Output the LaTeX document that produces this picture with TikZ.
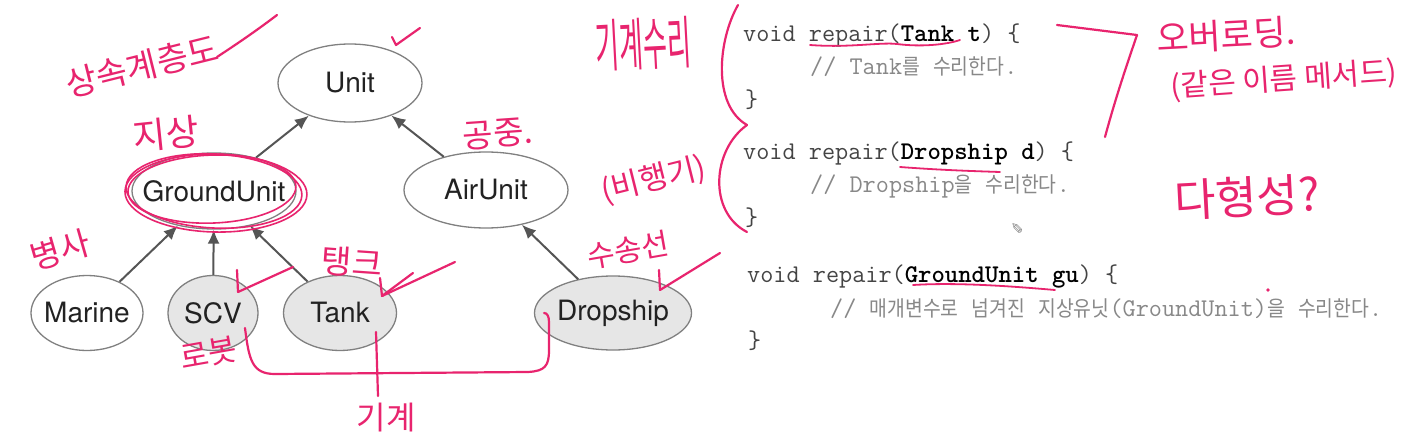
\documentclass[tikz,border=0pt]{standalone}
\usepackage{fontspec}
\setsansfont{TeX Gyre Heros}
\newfontfamily\kr[FakeStretch=0.9]{Noto Sans CJK KR}
\newfontfamily\hw{Noto Sans CJK KR}
\newfontfamily\dejavu{DejaVu Sans}
\usetikzlibrary{shapes.geometric,arrows.meta}
\definecolor{pen}{HTML}{E8246E}
\definecolor{edgegray}{HTML}{808080}
\definecolor{subfill}{HTML}{E6E6E6}
\definecolor{arr}{HTML}{555555}
\definecolor{codegray}{HTML}{444444}
\definecolor{cmtgray}{HTML}{888888}
\definecolor{lbl}{HTML}{222222}
\newcommand\zc[1]{\makebox[0pt]{#1}}
\newcommand\ko[1]{{\kr\fontsize{21.5}{24}\selectfont #1}}
\newcommand\hs[1]{\fontsize{#1}{#1}\selectfont}
\tikzset{
  cls/.style={ellipse, draw=edgegray, line width=1.3pt, inner sep=0pt, fill=white,
    font=\sffamily\fontsize{28}{30}\selectfont, text=lbl},
  sub/.style={cls, fill=subfill},
  inh/.style={draw=arr, line width=2pt, -{Latex[length=14pt,width=12pt]}},
  code/.style={anchor=base west, inner sep=0pt, text=codegray,
    font=\ttfamily\fontsize{25.5}{30}\selectfont},
  cmt/.style={code, text=cmtgray},
  hand/.style={inner sep=0pt, text=pen, font=\hw},
  penline/.style={draw=pen, line width=2.2pt, line cap=round, line join=round}
}
\begin{document}
\begin{tikzpicture}[x=1pt,y=-1pt]
\useasboundingbox (0,0) rectangle (1412,441);
\fill[white] (0,0) rectangle (1412,441);

% ---- class hierarchy ----
\node[cls, minimum width=144pt, minimum height=78pt] (Unit) at (350,83) {\zc{Unit}};
\node[cls, minimum width=164pt, minimum height=76pt] (GroundUnit) at (214,191) {\zc{GroundUnit}};
\node[cls, minimum width=164pt, minimum height=76pt] (AirUnit) at (486,190) {\zc{AirUnit}};
\node[cls, minimum width=112pt, minimum height=75pt] (Marine) at (87,313) {\zc{Marine}};
\node[sub, minimum width=90pt, minimum height=75pt] (SCV) at (213,313) {\zc{SCV}};
\node[sub, minimum width=113pt, minimum height=75pt] (Tank) at (340,313) {\zc{Tank}};
\node[sub, minimum width=157pt, minimum height=74pt] (Dropship) at (613,313) {\zc{Dropship}};

\draw[inh] (GroundUnit) -- (Unit);
\draw[inh] (AirUnit) -- (Unit);
\draw[inh] (Marine) -- (GroundUnit);
\draw[inh] (SCV) -- (GroundUnit);
\draw[inh] (Tank) -- (GroundUnit);
\draw[inh] (Dropship) -- (AirUnit);

% ---- code ----
\node[code] (c1a) at (743,42) {void repair(\textbf{\color{black}Tank t}) \{};
\node[cmt]  (c1b) at (810,75) {// Tank\ko{를} \ko{수리한다}.};
\node[code] (c1c) at (745,108) {\}};
\node[code] (c2a) at (743,159) {void repair(\textbf{\color{black}Dropship d}) \{};
\node[cmt]  (c2b) at (810,192) {// Dropship\ko{을} \ko{수리한다}.};
\node[code] (c2c) at (745,225) {\}};
\node[code] (c3a) at (747,282) {void repair(\textbf{\color{black}GroundUnit gu}) \{};
\node[cmt]  (c3b) at (830,316) {// \ko{매개변수로} \ko{넘겨진} \ko{지상유닛}(GroundUnit)\ko{을} \ko{수리한다}.};
\node[code] (c3c) at (748,348) {\}};

\node[text=gray, font=\dejavu\fontsize{15}{15}\selectfont, rotate=180, inner sep=0pt] (cursor) at (1017,228) {✎};

% ---- handwritten annotations ----
\node[hand, font=\hw\hs{34}, rotate=14] (h1) at (142,66) {상속계층도};
\draw[penline] (217,57) .. controls (240,42) and (260,28) .. (277,15);
\draw[penline] (392,37) -- (396,45) -- (420,28);
\node[hand, font=\hw\hs{36}, rotate=6] (h2) at (166,134) {지상};
\draw[penline, line width=1.6pt, rotate around={-3:(214,191)}] (214,191) ellipse [x radius=88, y radius=37];
\draw[penline, line width=1.6pt, rotate around={2:(214,191)}] (212,189) ellipse [x radius=84, y radius=34];
\draw[penline, line width=1.6pt, rotate around={-1:(214,191)}] (216,193) ellipse [x radius=91, y radius=39];
\node[hand, font=\hw\hs{33}, rotate=4] (h3) at (498,134) {공중.};
\node[hand, font=\hw\hs{31}, rotate=14] (h4) at (654,180) {(비행기)};
\node[hand, font=\hw\hs{30}, rotate=10] (h5) at (628,250) {수송선};
\node[hand, font=\hw\hs{33}, rotate=16] (h6) at (60,250) {병사};
\node[hand, font=\hw\hs{33}, rotate=-4] (h7) at (352,262) {탱크};
\node[hand, font=\hw\hs{31}, rotate=10] (h8) at (209,353) {로봇};
\node[hand, font=\hw\hs{32}] (h9) at (386,418) {기계};
\node[hand, font=\hw\hs{26}, rotate=3] (h10) at (643,44) {\scalebox{1}[2.2]{기계수리}};
\node[hand, font=\hw\hs{35}, rotate=3] (h11) at (1226,35) {오버로딩.};
\node[hand, font=\hw\hs{30}, rotate=4] (h12) at (1284,80) {(같은 이름 메서드)};
\node[hand, font=\hw\hs{45}, rotate=3] (h13) at (1247,197) {다형성?};

% check / arrow strokes
\draw[penline] (293,267) -- (238,292) -- (237,270);
\draw[penline] (455,262) -- (382,296) -- (380,278);
\draw[penline] (413,273) -- (382,296);
\draw[penline] (720,253) -- (660,290) -- (659,270);
% connecting scribbles
\draw[penline] (245,328) .. controls (249,360) and (252,374) .. (275,374)
  -- (528,372) .. controls (545,371) and (549,366) .. (549,350) -- (549,322)
  .. controls (549,316) and (547,313) .. (544,313);
\draw[penline] (376,332) -- (378,396);
% brace at code
\draw[penline] (738,5) .. controls (718,40) and (712,105) .. (747,125);
\draw[penline] (747,125) .. controls (712,150) and (708,212) .. (747,232);
% underlines
\draw[penline, line width=1.8pt] (810,45) .. controls (850,48) and (880,42) .. (897,44)
  .. controls (920,47) and (945,45) .. (960,40);
\draw[penline, line width=1.8pt] (900,167) .. controls (940,170) and (970,171) .. (1000,172);
\draw[penline, line width=1.8pt] (913,285) .. controls (960,282) and (1020,287) .. (1055,290);
\fill[pen] (1268,290) circle [radius=1.8];
% overloading bracket
\draw[penline] (1057,25) -- (1137,35) .. controls (1125,70) and (1115,100) .. (1105,137);
\end{tikzpicture}
\end{document}
